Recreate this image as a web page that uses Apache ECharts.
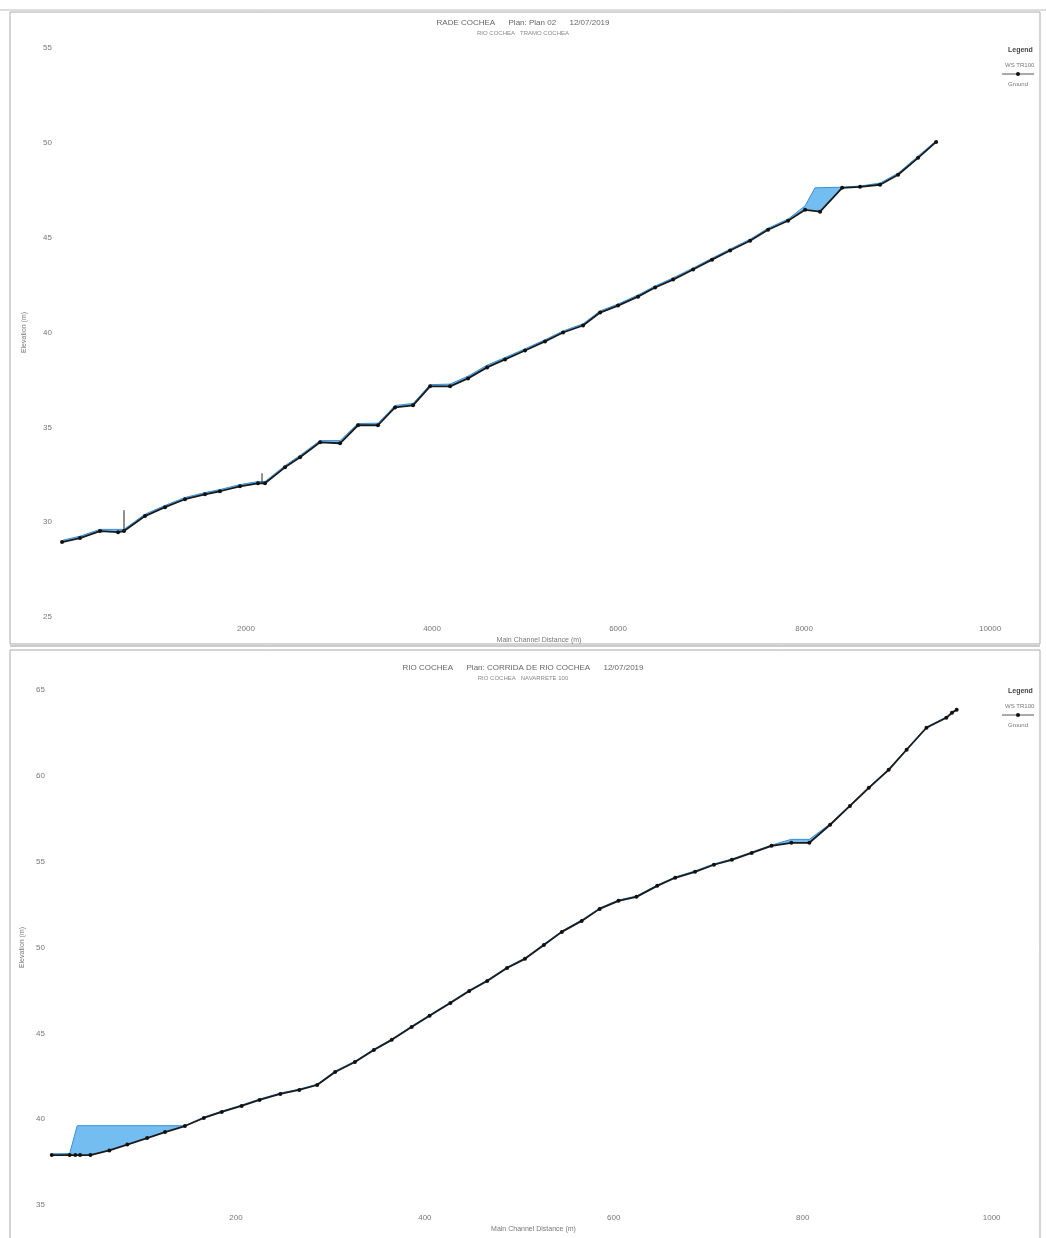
<!DOCTYPE html>
<html>
<head>
<meta charset="utf-8">
<script src="https://cdn.jsdelivr.net/npm/echarts@6/dist/echarts.min.js"></script>
<style>
html,body{margin:0;padding:0;background:#fff;}
#c{width:1046px;height:1238px;}
</style>
</head>
<body>
<div id="c"></div>
<script>
// ---------- Chart 1 (top): RADE COCHEA, Plan 02 ----------
const topTitle = "RADE COCHEA      Plan: Plan 02      12/07/2019";
const topSubtitle = "RIO COCHEA   TRAMO COCHEA";
const topGroundX = [22,215,430,624,688,914,1129,1344,1559,1720,1935,2129,2204,2419,2581,2796,3011,3204,3419,3602,3796,3979,4194,4387,4592,4785,5000,5215,5409,5624,5807,6000,6215,6398,6592,6807,7011,7205,7420,7613,7828,8011,8172,8409,8602,8817,9011,9226,9420];
const topGroundY = [28.95,29.16,29.53,29.47,29.53,30.32,30.79,31.21,31.47,31.63,31.89,32.05,32.05,32.89,33.42,34.21,34.16,35.11,35.11,36.05,36.16,37.16,37.16,37.58,38.16,38.58,39.05,39.53,40.0,40.37,41.05,41.42,41.89,42.37,42.79,43.32,43.84,44.32,44.84,45.42,45.89,46.47,46.37,47.63,47.68,47.79,48.32,49.21,50.05];
const topWsX = [30,215,430,624,688,914,1129,1344,1559,1720,1935,2129,2204,2419,2581,2796,3011,3204,3419,3602,3796,3979,4194,4387,4592,4785,5000,5215,5409,5624,5807,6000,6215,6398,6592,6807,7011,7205,7420,7613,7828,8011,8118,8409,8602,8817,9011,9226,9405];
const topWsY = [29.05,29.26,29.62,29.62,29.62,30.42,30.88,31.3,31.56,31.72,31.98,32.14,32.14,32.98,33.52,34.3,34.3,35.2,35.22,36.15,36.26,37.25,37.28,37.7,38.28,38.68,39.14,39.62,40.08,40.46,41.14,41.5,41.98,42.45,42.88,43.4,43.92,44.4,44.92,45.5,45.98,46.68,47.63,47.66,47.72,47.88,48.4,49.3,50.05];
// structures (vertical marks): [x, yBottom, yTop]
const topStructures = [[688,29.53,30.63],[2172,32.05,32.58]];
const topXTicks = {min:0, max:10300, interval:2000};
const topYTicks = {min:25, max:55, interval:5};

// ---------- Chart 2 (bottom): RIO COCHEA, CORRIDA DE RIO COCHEA ----------
const botTitle = "RIO COCHEA      Plan: CORRIDA DE RIO COCHEA      12/07/2019";
const botSubtitle = "RIO COCHEA   NAVARRETE 100";
const botGroundX = [5,24,30,35,46,66,85,106,125,146,166,185,206,225,247,267,286,305,326,346,365,386,405,427,447,466,487,506,526,545,566,585,605,624,646,665,686,706,725,746,767,788,807,829,850,870,891,910,931,952,958,963];
const botGroundY = [37.91,37.91,37.91,37.91,37.91,38.18,38.52,38.9,39.25,39.6,40.07,40.42,40.77,41.12,41.47,41.70,41.99,42.75,43.33,44.03,44.62,45.37,46.02,46.77,47.47,48.05,48.81,49.34,50.15,50.91,51.55,52.25,52.72,52.95,53.59,54.06,54.41,54.82,55.11,55.51,55.92,56.10,56.10,57.15,58.25,59.30,60.35,61.52,62.80,63.38,63.67,63.85];
const botWsX = [6,24,32,146,166,185,206,225,247,267,286,305,326,346,365,386,405,427,447,466,487,506,526,545,566,585,605,624,646,665,686,706,725,746,767,788,807,829,850,870,891,910,931,952,958,962];
const botWsY = [37.98,38.0,39.62,39.62,40.12,40.47,40.82,41.17,41.52,41.75,42.04,42.8,43.38,44.08,44.67,45.42,46.07,46.82,47.52,48.1,48.86,49.39,50.2,50.96,51.6,52.3,52.77,53.0,53.64,54.11,54.46,54.87,55.16,55.56,55.97,56.3,56.3,57.2,58.3,59.35,60.4,61.57,62.85,63.43,63.72,63.85];
const botXTicks = {min:0, max:1030, interval:200};
const botYTicks = {min:35, max:65, interval:5};

// ---------- shared text ----------
const xName = "Main Channel Distance (m)";
const yName = "Elevation (m)";
const legendTitle = "Legend";
const wsName = "WS TR100";
const groundName = "Ground";

const zip = (a,b) => a.map((v,i)=>[v,b[i]]);
function structData(list){
  const out=[];
  list.forEach(s=>{ out.push([s[0],s[1]]); out.push([s[0],s[2]]); out.push('-'); });
  return out;
}

const LBL = '#777';
const FONT = 'Liberation Sans, Arial, sans-serif';
const BLUE_FILL = '#74bdf0';
const BLUE_LINE = '#3a8fd8';

function xAxisCfg(idx, t, margin){
  return {
    type:'value', gridIndex:idx, min:t.min, max:t.max, interval:t.interval,
    name:xName, nameLocation:'middle', nameGap:margin+12,
    nameTextStyle:{color:LBL,fontSize:7,fontFamily:FONT},
    axisLine:{show:false}, axisTick:{show:false}, splitLine:{show:false},
    axisLabel:{color:LBL,fontSize:8,fontFamily:FONT,margin:margin,showMinLabel:false,showMaxLabel:false,
      formatter:v=>String(v)}
  };
}
function yAxisCfg(idx, t, margin, gap){
  return {
    type:'value', gridIndex:idx, min:t.min, max:t.max, interval:t.interval,
    name:yName, nameLocation:'middle', nameGap:gap, nameRotate:90,
    nameTextStyle:{color:LBL,fontSize:7,fontFamily:FONT},
    axisLine:{show:false}, axisTick:{show:false}, splitLine:{show:false},
    axisLabel:{color:LBL,fontSize:8,fontFamily:FONT,margin:margin}
  };
}
function wsSeries(idx, x, y){
  return {type:'line', name:wsName, xAxisIndex:idx, yAxisIndex:idx, data:zip(x,y),
    symbol:'none', lineStyle:{color:BLUE_LINE,width:1},
    areaStyle:{color:BLUE_FILL,opacity:1,origin:'start'}, z:2, silent:true};
}
function groundSeries(idx, x, y){
  return {type:'line', name:groundName, xAxisIndex:idx, yAxisIndex:idx, data:zip(x,y),
    symbol:'circle', symbolSize:4, itemStyle:{color:'#111'},
    lineStyle:{color:'#1a1a1a',width:1.8},
    areaStyle:{color:'#ffffff',opacity:1,origin:'start'}, z:3, silent:true};
}

function legendGraphic(x, y){
  return [
    {type:'text', left:x, top:y, style:{text:legendTitle, fill:'#444', font:'bold 7px '+FONT}},
    {type:'text', left:x-3, top:y+15, style:{text:wsName, fill:'#777', font:'6px '+FONT}},
    {type:'line', shape:{x1:x-6,y1:y+27,x2:x+26,y2:y+27}, style:{stroke:'#555',lineWidth:1}},
    {type:'circle', shape:{cx:x+10,cy:y+27,r:2}, style:{fill:'#111'}},
    {type:'text', left:x, top:y+34, style:{text:groundName, fill:'#777', font:'6px '+FONT}}
  ];
}

const chart = echarts.init(document.getElementById('c'), null, {renderer:'canvas'});
chart.setOption({
  animation:false,
  backgroundColor:'#ffffff',
  title:[
    {text:topTitle, left:'center', top:14, textStyle:{color:'#666',fontSize:8,fontWeight:'normal',fontFamily:FONT},
     subtext:topSubtitle, subtextStyle:{color:'#888',fontSize:6,fontFamily:FONT}, itemGap:3},
    {text:botTitle, left:'center', top:659, textStyle:{color:'#666',fontSize:8,fontWeight:'normal',fontFamily:FONT},
     subtext:botSubtitle, subtextStyle:{color:'#888',fontSize:6,fontFamily:FONT}, itemGap:3}
  ],
  grid:[
    {left:60, right:28, top:48, bottom:621, containLabel:false},
    {left:47, right:26, top:690, bottom:33, containLabel:false}
  ],
  xAxis:[ xAxisCfg(0, topXTicks, 8), xAxisCfg(1, botXTicks, 9) ],
  yAxis:[ yAxisCfg(0, topYTicks, 8, 32), yAxisCfg(1, botYTicks, 2, 20) ],
  series:[
    wsSeries(0, topWsX, topWsY),
    groundSeries(0, topGroundX, topGroundY),
    {type:'line', xAxisIndex:0, yAxisIndex:0, data:structData(topStructures), symbol:'none',
      connectNulls:false, lineStyle:{color:'#222',width:1}, z:4, silent:true},
    wsSeries(1, botWsX, botWsY),
    groundSeries(1, botGroundX, botGroundY)
  ],
  graphic:[
    {type:'line', shape:{x1:0,y1:10,x2:1046,y2:10}, style:{stroke:'#bbb',lineWidth:1}},
    {type:'rect', shape:{x:10,y:12,width:1030,height:632}, style:{fill:'none',stroke:'#aaa',lineWidth:1}},
    {type:'line', shape:{x1:10,y1:646,x2:1040,y2:646}, style:{stroke:'#999',lineWidth:1}},
    {type:'rect', shape:{x:10,y:650,width:1030,height:590}, style:{fill:'none',stroke:'#aaa',lineWidth:1}},
    ...legendGraphic(1008, 47),
    ...legendGraphic(1008, 688)
  ]
});
</script>
</body>
</html>
